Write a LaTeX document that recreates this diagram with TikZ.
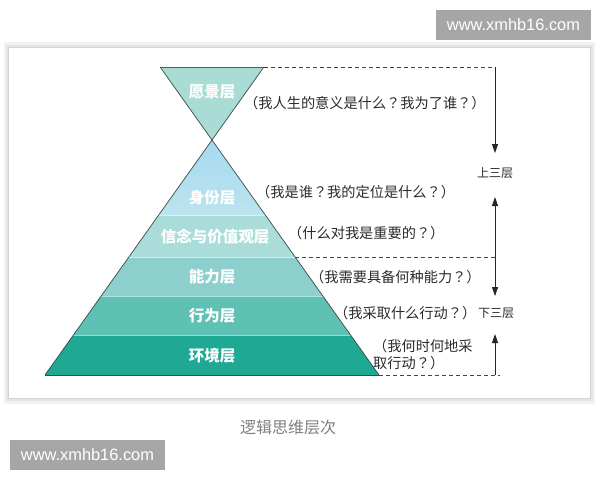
\documentclass[tikz,border=0pt]{standalone}
\usepackage{fontspec}
\setmainfont{Noto Sans CJK SC}
\newfontfamily\wmfont{Liberation Sans}
\newfontfamily\tcpunct{Noto Sans CJK TC}
\newcommand\myLP{{\tcpunct （}}
\newcommand\myRP{{\tcpunct ）}}
\newcommand\myQM{{\tcpunct ？}}
\usetikzlibrary{arrows.meta}
\definecolor{visionc}{HTML}{A8DCD4}
\definecolor{identtop}{HTML}{A6D9F1}
\definecolor{identbot}{HTML}{BCE3EF}
\definecolor{beliefc}{HTML}{AADDDA}
\definecolor{abilityc}{HTML}{8DCFCC}
\definecolor{behavec}{HTML}{5FC1B3}
\definecolor{envc}{HTML}{1FA994}
\definecolor{edgec}{HTML}{3A4A48}
\definecolor{txtc}{HTML}{2B2B2B}
\definecolor{capc}{HTML}{808080}
\definecolor{wmc}{HTML}{A6A6A6}
\tikzset{
  layerlabel/.style={text=white, font=\fontsize{15.5pt}{17pt}\selectfont\bfseries, inner sep=0pt},
  question/.style={text=txtc, font=\fontsize{14.2pt}{17pt}\selectfont, inner sep=0pt, anchor=west},
  sidelabel/.style={text=txtc, font=\fontsize{12pt}{14pt}\selectfont, inner sep=0pt},
  dashline/.style={draw=edgec, dash pattern=on 4pt off 3pt, line width=0.7pt},
  arrowline/.style={draw=black!85, line width=0.8pt, -{Triangle[length=9pt,width=6pt]}},
  dblarrow/.style={draw=black!85, line width=0.8pt, {Triangle[length=9pt,width=6pt]}-{Triangle[length=9pt,width=6pt]}},
  wmbox/.style={fill=wmc, text=white, font=\wmfont\fontsize{16.4pt}{18pt}\selectfont, inner sep=0pt, minimum width=155pt, minimum height=30pt},
}
\begin{document}
\begin{tikzpicture}[x=1pt,y=-1pt]
\useasboundingbox (0,0) rectangle (600,480);
\fill[white] (0,0) rectangle (600,480);
% frame with soft shadow
\fill[black!5] (4,42) rectangle (595,404);
\fill[black!10] (6,45) rectangle (593,401);
\fill[black!17] (8,47) rectangle (591,399);
\fill[white] (9,48) rectangle (590,398);
% watermarks
\node[wmbox] (wmtop) at (513.5,25) {www.xmhb16.com};
\node[wmbox] (wmbot) at (87.5,455) {www.xmhb16.com};
% vision triangle
\fill[visionc] (160.1,67) -- (263.9,67) -- (212,140) -- cycle;
% pyramid bands
\shade[top color=identtop, bottom color=identbot] (212,140) -- (265.3,215) -- (158.7,215) -- cycle;
\fill[beliefc] (158.7,215) -- (265.3,215) -- (295.1,257) -- (128.9,257) -- cycle;
\fill[abilityc] (128.9,257) -- (295.1,257) -- (322.9,296) -- (101.1,296) -- cycle;
\fill[behavec] (101.1,296) -- (322.9,296) -- (350.6,335) -- (73.4,335) -- cycle;
\fill[envc] (73.4,335) -- (350.6,335) -- (379,375) -- (45,375) -- cycle;
% band separators
\draw[white!70!abilityc, line width=0.6pt] (158.7,215) -- (265.3,215);
\draw[white!60!abilityc, line width=0.6pt] (128.9,257) -- (295.1,257);
\draw[white!50!behavec, line width=0.6pt] (101.1,296) -- (322.9,296);
\draw[white!40!behavec, line width=0.6pt] (73.4,335) -- (350.6,335);
% outlines
\coordinate (tl) at (160.1,67);
\coordinate (tr) at (263.9,67);
\coordinate (bl) at (45,375);
\coordinate (br) at (379,375);
\coordinate (mid) at (295.1,257);
\draw[edgec, line width=0.7pt] (tl) -- (br);
\draw[edgec, line width=0.7pt] (tr) -- (bl);
\draw[black!55!visionc, line width=1pt] (tl) -- (tr);
\draw[edgec, line width=1pt] (bl) -- (br);
% layer labels
\node[layerlabel] (vision) at (212,92) {愿景层};
\node[layerlabel] (ident) at (212,198) {身份层};
\node[layerlabel] (belief) at (215,237) {信念与价值观层};
\node[layerlabel] (ability) at (212,277) {能力层};
\node[layerlabel] (behave) at (212,316) {行为层};
\node[layerlabel] (env) at (212,356) {环境层};
% questions
\node[question] (q1) at (244,103) {\myLP 我人生的意义是什么\myQM 我为了谁\myQM\myRP};
\node[question] (q2) at (256,192) {\myLP 我是谁\myQM 我的定位是什么\myQM\myRP};
\node[question] (q3) at (288,233) {\myLP 什么对我是重要的\myQM\myRP};
\node[question] (q4) at (310,277) {\myLP 我需要具备何种能力\myQM\myRP};
\node[question] (q5) at (334,313) {\myLP 我采取什么行动\myQM\myRP};
\node[question, anchor=north west, align=left] (q6) at (373,339) {\myLP 我何时何地采\\取行动\myQM\myRP};
% side labels
\node[sidelabel] (upper) at (495,173) {上三层};
\node[sidelabel] (lower) at (496,313) {下三层};
% dashed guides and arrows
\coordinate (a1s) at (495,67);
\coordinate (a1e) at (495,153);
\coordinate (m2) at (497,257);
\coordinate (a2s) at (495,197);
\coordinate (a2e) at (495,296);
\coordinate (b2) at (500,375);
\coordinate (a3s) at (495,375);
\coordinate (a3e) at (495,334);
\draw[dashline] (tr) -- (a1s);
\draw[dashline] (mid) -- (m2);
\draw[dashline] (br) -- (b2);
\draw[arrowline] (a1s) -- (a1e);
\draw[dblarrow] (a2s) -- (a2e);
\draw[arrowline] (a3s) -- (a3e);
% caption
\node[text=capc, font=\fontsize{16pt}{18pt}\selectfont, inner sep=0pt] (cap) at (288,427) {逻辑思维层次};
\end{tikzpicture}
\end{document}
